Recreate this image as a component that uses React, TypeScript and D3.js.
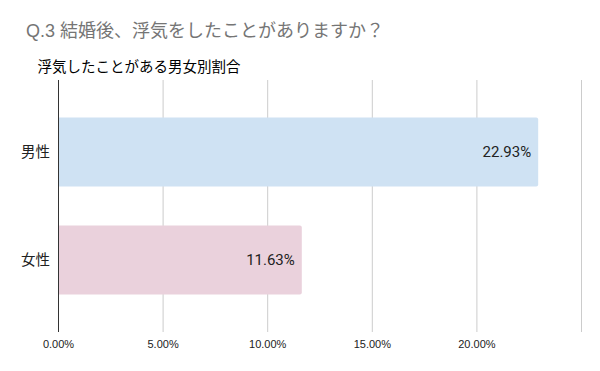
import * as d3 from "d3";
import { useEffect, useRef } from "react";

// chart data
const categories = ["男性", "女性"];
const values = [22.93, 11.63];
const barColors = ["#cfe2f3", "#ead1dc"];
const tickValues = [0, 5, 10, 15, 20, 25];
const tickLabels = ["0.00%", "5.00%", "10.00%", "15.00%", "20.00%", ""];

const title = "Q.3 結婚後、浮気をしたことがありますか？";
const subtitle = "浮気したことがある男女別割合";

const W = 600;
const H = 371;

export default function App() {
  const ref = useRef<SVGSVGElement>(null);

  useEffect(() => {
    const svg = d3.select(ref.current);
    svg.selectAll("*").remove();

    svg.append("rect").attr("width", W).attr("height", H).attr("fill", "#fff");

    // scales
    const x = d3.scaleLinear().domain([0, 25]).range([58.5, 581.5]);
    const y = d3
      .scaleBand<string>()
      .domain(categories)
      .range([98, 314])
      .paddingInner(0.36)
      .paddingOuter(0.18);

    // titles
    svg
      .append("text")
      .attr("x", 26)
      .attr("y", 37)
      .attr("font-family", "Arial, 'Liberation Sans', 'Noto Sans CJK JP', sans-serif")
      .attr("font-size", 18)
      .attr("fill", "#757575")
      .text(title);
    svg
      .append("text")
      .attr("x", 37.5)
      .attr("y", 72)
      .attr("font-family", "Roboto, 'Noto Sans CJK JP', sans-serif")
      .attr("font-size", 14.5)
      .attr("fill", "#000")
      .text(subtitle);

    // gridlines
    const grid = svg.append("g");
    grid
      .selectAll("line")
      .data(tickValues.slice(1))
      .enter()
      .append("line")
      .attr("x1", (d) => x(d))
      .attr("x2", (d) => x(d))
      .attr("y1", 80)
      .attr("y2", 332)
      .attr("stroke", "#cccccc")
      .attr("stroke-width", 1);

    // tick labels
    svg
      .append("g")
      .selectAll("text")
      .data(tickValues)
      .enter()
      .append("text")
      .attr("x", (d) => x(d))
      .attr("y", 348)
      .attr("text-anchor", "middle")
      .attr("font-family", "Arial, 'Liberation Sans', sans-serif")
      .attr("font-size", 11)
      .attr("fill", "#222")
      .text((_, i) => tickLabels[i]);

    // bars
    const bars = svg.append("g");
    categories.forEach((c, i) => {
      const x0 = x(0);
      const x1 = x(values[i]);
      const y0 = y(c)!;
      const h = y.bandwidth();
      const r = 2;
      bars
        .append("path")
        .attr(
          "d",
          `M${x0},${y0} H${x1 - r} Q${x1},${y0} ${x1},${y0 + r} V${y0 + h - r} Q${x1},${y0 + h} ${x1 - r},${y0 + h} H${x0} Z`
        )
        .attr("fill", barColors[i]);
      bars
        .append("text")
        .attr("x", x1 - 7)
        .attr("y", y0 + h / 2)
        .attr("dy", "0.35em")
        .attr("text-anchor", "end")
        .attr("font-family", "Roboto, sans-serif")
        .attr("font-size", 15)
        .attr("fill", "#222")
        .text(values[i].toFixed(2) + "%");
    });

    // category labels
    svg
      .append("g")
      .selectAll("text")
      .data(categories)
      .enter()
      .append("text")
      .attr("x", 50)
      .attr("y", (d) => y(d)! + y.bandwidth() / 2)
      .attr("dy", "0.35em")
      .attr("text-anchor", "end")
      .attr("font-family", "Roboto, 'Noto Sans CJK JP', sans-serif")
      .attr("font-size", 14.5)
      .attr("fill", "#222")
      .text((d) => d);

    // baseline axis
    svg
      .append("line")
      .attr("x1", x(0))
      .attr("x2", x(0))
      .attr("y1", 80)
      .attr("y2", 332)
      .attr("stroke", "#333")
      .attr("stroke-width", 1);
  }, []);

  return (
    <svg
      ref={ref}
      width={W}
      height={H}
      style={{ position: "absolute", left: 0, top: 0, display: "block" }}
    ></svg>
  );
}
